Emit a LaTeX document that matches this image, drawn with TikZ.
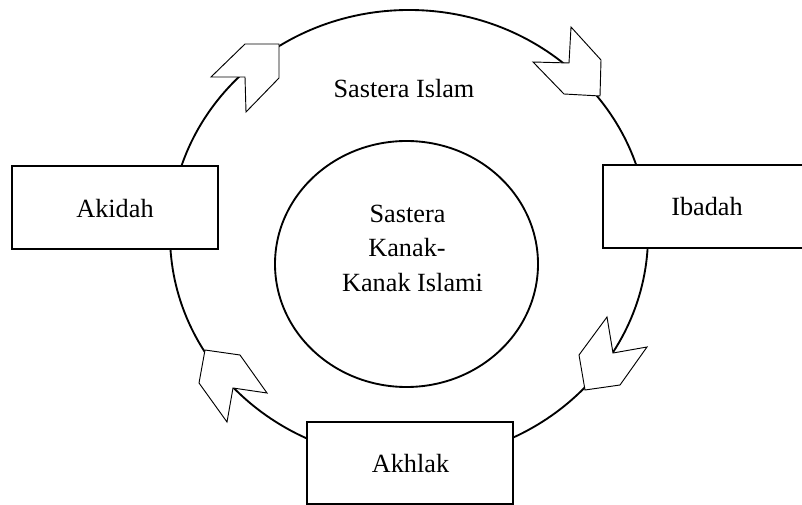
\documentclass[tikz,border=0pt]{standalone}
\usepackage{fontspec}
\setmainfont{Liberation Serif}
\usetikzlibrary{shapes.geometric}
\begin{document}
\begin{tikzpicture}[x=0.75pt,y=-0.75pt,
  ring/.style={draw=black,line width=1.4pt},
  boxnode/.style={draw=black,line width=0.9pt,fill=white,inner sep=0pt},
  chev/.style={draw=black,line width=0.7pt,fill=white,line join=miter},
  lbl/.style={font=\fontsize{19.7pt}{23pt}\selectfont,inner sep=0pt,anchor=base}]
\clip (0,0) rectangle (802,505);
\fill[white] (0,0) rectangle (802,505);
% outer ring
\node[ring,ellipse,inner sep=0pt,minimum width=478*0.75pt,minimum height=450*0.75pt] (outer) at (409,235) {};
% inner circle
\node[ring,ellipse,inner sep=0pt,minimum width=263*0.75pt,minimum height=246*0.75pt] (inner) at (406.5,264) {};
% boxes
\node[boxnode,minimum width=206*0.75pt,minimum height=83*0.75pt] (akidah) at (115,207.5) {};
\node[boxnode,minimum width=208*0.75pt,minimum height=83*0.75pt] (ibadah) at (707,206.5) {};
\node[boxnode,minimum width=206*0.75pt,minimum height=82*0.75pt] (akhlak) at (410,463) {};
% chevrons
\draw[chev] (279,44) -- (245,44) -- (211,77) -- (245,77) -- (246,112) -- (279,78) -- cycle;
\draw[chev] (571,27) -- (601,60) -- (600,96) -- (564,94) -- (533,62) -- (569,63) -- cycle;
\draw[chev] (607,317) -- (613,353) -- (647,347) -- (620,385) -- (585,390) -- (579,355) -- cycle;
\draw[chev] (205,350) -- (240,355) -- (267,393) -- (233,388) -- (227,422) -- (199,383) -- cycle;
% labels
\node[lbl] (tIslam) at (404,98) {Sastera Islam};
\node[lbl] (tAkidah) at (115,218) {Akidah};
\node[lbl] (tIbadah) at (707,216) {Ibadah};
\node[lbl] (tAkhlak) at (410.5,472.5) {Akhlak};
\node[lbl] (tIn1) at (407.5,223) {Sastera};
\node[lbl] (tIn2) at (407,257) {Kanak-};
\node[lbl] (tIn3) at (412.5,292) {Kanak Islami};
\end{tikzpicture}
\end{document}
